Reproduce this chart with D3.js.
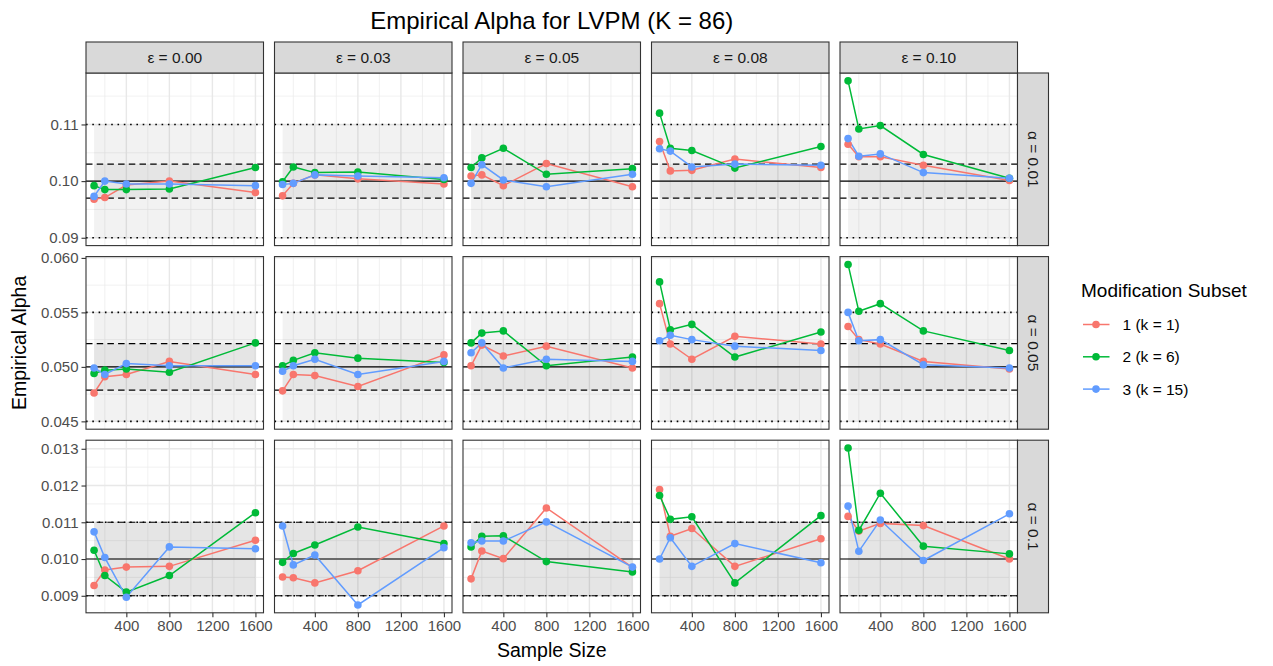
<!DOCTYPE html>
<html>
<head>
<meta charset="utf-8">
<script src="https://cdn.jsdelivr.net/npm/d3@7"></script>
<style>
  body { margin: 0; background: #fff; }
  text { font-family: "Liberation Sans", Arial, sans-serif; }
</style>
</head>
<body>
<svg id="chart" width="1273" height="666"></svg>
<script>
// facet labels
const epsilonLabels = ["ε = 0.00", "ε = 0.03", "ε = 0.05", "ε = 0.08", "ε = 0.10"];
const alphaLabels = ["α = 0.01", "α = 0.05", "α = 0.1"];
const subsetLabels = ["1 (k = 1)", "2 (k = 6)", "3 (k = 15)"];

const sampleSizes = [100, 200, 400, 800, 1600];
const xTicks = [400, 800, 1200, 1600];

// reference lines per row: nominal, dashed half width, dotted half width
const nominalAlpha = [0.10, 0.05, 0.01];
const dashedHalf = [0.003, 0.00213, 0.001];
const dottedHalf = [0.01, 0.005, 0.001];

const yTicks = [
  [0.09, 0.10, 0.11],
  [0.045, 0.050, 0.055, 0.060],
  [0.009, 0.010, 0.011, 0.012, 0.013]
];
const yFormats = [".2f", ".3f", ".3f"];

// empirical alpha, one array per row and subset: [epsilon column][sample size]
const row1Subset1 = [
  [0.0968, 0.0971, 0.0993, 0.1000, 0.0980],
  [0.0974, 0.0996, 0.1011, 0.1004, 0.0995],
  [0.1009, 0.1011, 0.0992, 0.1031, 0.0990],
  [0.1070, 0.1018, 0.1019, 0.1039, 0.1024],
  [0.1065, 0.1043, 0.1043, 0.1028, 0.1001]
];
const row1Subset2 = [
  [0.0992, 0.0985, 0.0985, 0.0986, 0.1024],
  [0.0999, 0.1025, 0.1015, 0.1016, 0.1003],
  [0.1024, 0.1041, 0.1058, 0.1012, 0.1022],
  [0.1120, 0.1058, 0.1054, 0.1023, 0.1061],
  [0.1177, 0.1092, 0.1098, 0.1047, 0.1005]
];
const row1Subset3 = [
  [0.0973, 0.1000, 0.0995, 0.0995, 0.0992],
  [0.0994, 0.0996, 0.1011, 0.1009, 0.1006],
  [0.0996, 0.1029, 0.1002, 0.0990, 0.1012],
  [0.1057, 0.1053, 0.1025, 0.1030, 0.1028],
  [0.1075, 0.1044, 0.1048, 0.1015, 0.1005]
];
const row2Subset1 = [
  [0.0476, 0.0491, 0.0493, 0.0505, 0.0493],
  [0.0478, 0.0493, 0.0492, 0.0482, 0.0511],
  [0.0501, 0.0520, 0.0510, 0.0519, 0.0499],
  [0.0558, 0.0521, 0.0507, 0.0528, 0.0521],
  [0.0537, 0.0525, 0.0521, 0.0505, 0.0498]
];
const row2Subset2 = [
  [0.0494, 0.0497, 0.0498, 0.0495, 0.0522],
  [0.0501, 0.0506, 0.0513, 0.0508, 0.0504],
  [0.0522, 0.0531, 0.0533, 0.0501, 0.0509],
  [0.0578, 0.0534, 0.0539, 0.0509, 0.0532],
  [0.0594, 0.0551, 0.0558, 0.0533, 0.0515]
];
const row2Subset3 = [
  [0.0499, 0.0493, 0.0503, 0.0501, 0.0501],
  [0.0496, 0.0501, 0.0507, 0.0493, 0.0505],
  [0.0513, 0.0522, 0.0499, 0.0507, 0.0505],
  [0.0524, 0.0529, 0.0525, 0.0519, 0.0515],
  [0.0550, 0.0524, 0.0525, 0.0502, 0.0499]
];
const row3Subset1 = [
  [0.00928, 0.00970, 0.00978, 0.00980, 0.01051],
  [0.00951, 0.00949, 0.00935, 0.00968, 0.01090],
  [0.00946, 0.01022, 0.01001, 0.01139, 0.00977],
  [0.01189, 0.01062, 0.01083, 0.00980, 0.01055],
  [0.01116, 0.01076, 0.01097, 0.01091, 0.01000]
];
const row3Subset2 = [
  [0.01024, 0.00955, 0.00910, 0.00955, 0.01126],
  [0.00991, 0.01015, 0.01038, 0.01087, 0.01042],
  [0.01033, 0.01062, 0.01063, 0.00993, 0.00965],
  [0.01173, 0.01108, 0.01115, 0.00935, 0.01118],
  [0.01302, 0.01078, 0.01179, 0.01035, 0.01014]
];
const row3Subset3 = [
  [0.01074, 0.01004, 0.00896, 0.01033, 0.01028],
  [0.01090, 0.00984, 0.01011, 0.00875, 0.01031],
  [0.01044, 0.01049, 0.01049, 0.01101, 0.00978],
  [0.01000, 0.01058, 0.00980, 0.01042, 0.00990],
  [0.01144, 0.01021, 0.01106, 0.00996, 0.01123]
];

const rows = [
  [row1Subset1, row1Subset2, row1Subset3],
  [row2Subset1, row2Subset2, row2Subset3],
  [row3Subset1, row3Subset2, row3Subset3]
];

const colors = ["#F8766D", "#00BA38", "#619CFF"];

// layout
const panelW = 177.5, panelH = 172.6;
const colStep = 188.5, rowStep = 183.6;
const panelLeft = 86, panelTop = 73, stripH = 31, stripW = 31;

const svg = d3.select("#chart");

// x scale with ggplot-style 5% expansion
const xExt = d3.extent(sampleSizes);
const xPad = (xExt[1] - xExt[0]) * 0.05;
const x = d3.scaleLinear()
  .domain([xExt[0] - xPad, xExt[1] + xPad])
  .range([0, panelW]);
const xMinor = [200, 600, 1000, 1400];

const line = d3.line();

rows.forEach((subsets, r) => {
  const all = subsets.flat(2).concat([nominalAlpha[r] - dottedHalf[r], nominalAlpha[r] + dottedHalf[r]]);
  const ext = d3.extent(all);
  const pad = (ext[1] - ext[0]) * 0.05;
  const y = d3.scaleLinear().domain([ext[0] - pad, ext[1] + pad]).range([panelH, 0]);
  const ticks = yTicks[r];
  const step = ticks[1] - ticks[0];
  const yMinor = [];
  for (let i = -1; i < ticks.length; i++) {
    const v = ticks[0] + step * (i + 0.5);
    if (v > y.domain()[0] && v < y.domain()[1]) yMinor.push(v);
  }

  epsilonLabels.forEach((lab, c) => {
    const g = svg.append("g")
      .attr("transform", `translate(${panelLeft + c * colStep},${panelTop + r * rowStep})`);

    g.append("rect").attr("width", panelW).attr("height", panelH).attr("fill", "#fff");

    // grid
    g.selectAll(".ymin").data(yMinor).enter().append("line")
      .attr("x1", 0).attr("x2", panelW)
      .attr("y1", d => y(d)).attr("y2", d => y(d))
      .attr("stroke", "#ebebeb").attr("stroke-width", 0.7);
    g.selectAll(".xmin").data(xMinor).enter().append("line")
      .attr("y1", 0).attr("y2", panelH)
      .attr("x1", d => x(d)).attr("x2", d => x(d))
      .attr("stroke", "#ebebeb").attr("stroke-width", 0.7);
    g.selectAll(".ymaj").data(ticks).enter().append("line")
      .attr("x1", 0).attr("x2", panelW)
      .attr("y1", d => y(d)).attr("y2", d => y(d))
      .attr("stroke", "#e8e8e8").attr("stroke-width", 1.4);
    g.selectAll(".xmaj").data(xTicks).enter().append("line")
      .attr("y1", 0).attr("y2", panelH)
      .attr("x1", d => x(d)).attr("x2", d => x(d))
      .attr("stroke", "#e8e8e8").attr("stroke-width", 1.4);

    // shaded bands
    [dottedHalf[r], dashedHalf[r]].forEach(h => {
      g.append("rect")
        .attr("x", x(xExt[0])).attr("width", x(xExt[1]) - x(xExt[0]))
        .attr("y", y(nominalAlpha[r] + h))
        .attr("height", y(nominalAlpha[r] - h) - y(nominalAlpha[r] + h))
        .attr("fill", "#000").attr("fill-opacity", 0.05);
    });

    // reference lines
    const hline = (v, dash, w) => g.append("line")
      .attr("x1", 0).attr("x2", panelW)
      .attr("y1", y(v)).attr("y2", y(v))
      .attr("stroke", "#000").attr("stroke-width", w)
      .attr("stroke-dasharray", dash);
    hline(nominalAlpha[r] + dottedHalf[r], "1.6,4.7", 1.6);
    hline(nominalAlpha[r] - dottedHalf[r], "1.6,4.7", 1.6);
    hline(nominalAlpha[r] + dashedHalf[r], "6.5,4.2", 1.2);
    hline(nominalAlpha[r] - dashedHalf[r], "6.5,4.2", 1.2);
    hline(nominalAlpha[r], null, 1.2);

    // series
    subsets.forEach((s, k) => {
      const pts = sampleSizes.map((n, i) => [x(n), y(s[c][i])]);
      g.append("path").attr("d", line(pts))
        .attr("fill", "none").attr("stroke", colors[k]).attr("stroke-width", 1.5);
    });
    subsets.forEach((s, k) => {
      g.selectAll(null).data(sampleSizes).enter().append("circle")
        .attr("cx", d => x(d))
        .attr("cy", (d, i) => y(s[c][i]))
        .attr("r", 3.8).attr("fill", colors[k]);
    });

    g.append("rect").attr("width", panelW).attr("height", panelH)
      .attr("fill", "none").attr("stroke", "#333").attr("stroke-width", 1.1);

    // top strips
    if (r === 0) {
      const sg = svg.append("g")
        .attr("transform", `translate(${panelLeft + c * colStep},${panelTop - stripH})`);
      sg.append("rect").attr("width", panelW).attr("height", stripH)
        .attr("fill", "#d9d9d9").attr("stroke", "#333").attr("stroke-width", 1.1);
      sg.append("text").attr("x", panelW / 2).attr("y", stripH / 2 + 5.3)
        .attr("text-anchor", "middle").attr("font-size", 15.5).attr("fill", "#1a1a1a")
        .text(lab);
    }

    // x axis on bottom row
    if (r === rows.length - 1) {
      const ax = g.append("g").attr("transform", `translate(0,${panelH})`)
        .call(d3.axisBottom(x).tickValues(xTicks).tickFormat(d3.format("d"))
          .tickSize(4.5).tickPadding(3).tickSizeOuter(0));
      ax.select(".domain").remove();
      ax.selectAll("line").attr("stroke", "#333").attr("stroke-width", 1.1);
      ax.selectAll("text").attr("font-size", 15).attr("fill", "#4d4d4d")
        .attr("font-family", "Liberation Sans, Arial, sans-serif");
    }

    // y axis on first column
    if (c === 0) {
      const ay = g.append("g")
        .call(d3.axisLeft(y).tickValues(ticks).tickFormat(d3.format(yFormats[r]))
          .tickSize(4.5).tickPadding(3).tickSizeOuter(0));
      ay.select(".domain").remove();
      ay.selectAll("line").attr("stroke", "#333").attr("stroke-width", 1.1);
      ay.selectAll("text").attr("font-size", 15).attr("fill", "#4d4d4d")
        .attr("font-family", "Liberation Sans, Arial, sans-serif");
    }
  });

  // right strip
  const rx = panelLeft + (epsilonLabels.length - 1) * colStep + panelW;
  const rg = svg.append("g").attr("transform", `translate(${rx},${panelTop + r * rowStep})`);
  rg.append("rect").attr("width", stripW).attr("height", panelH)
    .attr("fill", "#d9d9d9").attr("stroke", "#333").attr("stroke-width", 1.1);
  rg.append("text")
    .attr("transform", `translate(${stripW / 2 - 5.3},${panelH / 2}) rotate(90)`)
    .attr("text-anchor", "middle").attr("font-size", 15.5).attr("fill", "#1a1a1a")
    .text(alphaLabels[r]);
});

// titles
const plotMid = panelLeft + ((epsilonLabels.length - 1) * colStep + panelW) / 2;
svg.append("text").attr("x", plotMid).attr("y", 29)
  .attr("text-anchor", "middle").attr("font-size", 24).attr("fill", "#000")
  .text("Empirical Alpha for LVPM (K = 86)");
svg.append("text").attr("x", plotMid).attr("y", 656.5)
  .attr("text-anchor", "middle").attr("font-size", 19.5).attr("fill", "#000")
  .text("Sample Size");
svg.append("text")
  .attr("transform", `translate(26,${panelTop + (2 * rowStep + panelH) / 2}) rotate(-90)`)
  .attr("text-anchor", "middle").attr("font-size", 19.5).attr("fill", "#000")
  .text("Empirical Alpha");

// legend
const lg = svg.append("g").attr("transform", "translate(1081,0)");
lg.append("text").attr("x", 0).attr("y", 296.5)
  .attr("font-size", 19).attr("fill", "#000").text("Modification Subset");
subsetLabels.forEach((lab, k) => {
  const ly = 324.5 + k * 32.3;
  lg.append("line").attr("x1", 2).attr("x2", 28.5).attr("y1", ly).attr("y2", ly)
    .attr("stroke", colors[k]).attr("stroke-width", 1.5);
  lg.append("circle").attr("cx", 15).attr("cy", ly).attr("r", 3.8).attr("fill", colors[k]);
  lg.append("text").attr("x", 41.5).attr("y", ly + 5.5)
    .attr("font-size", 15.5).attr("fill", "#000").text(lab);
});
</script>
</body>
</html>
